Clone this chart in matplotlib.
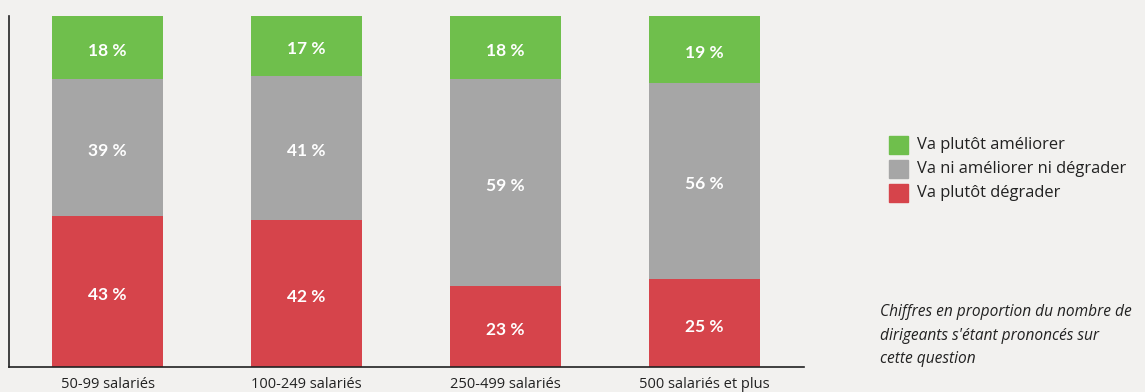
import matplotlib
matplotlib.use("Agg")
import matplotlib.pyplot as plt
from matplotlib.patches import Rectangle
from matplotlib.transforms import offset_copy

plt.rcParams['font.family'] = ['Open Sans', 'DejaVu Sans']

categories = ["50-99 salariés", "100-249 salariés", "250-499 salariés", "500 salariés et plus"]
degrader = [43, 42, 23, 25]
neutre = [39, 41, 59, 56]
ameliorer = [18, 17, 18, 19]
series_labels = ["Va plutôt améliorer", "Va ni améliorer ni dégrader", "Va plutôt dégrader"]
note_lines = ["Chiffres en proportion du nombre de",
              "dirigeants s'étant prononcés sur",
              "cette question"]

BG = "#f2f1ef"
GREEN = "#6fbf4c"
GREY = "#a6a6a6"
RED = "#d6444b"
INK = "#222222"

W, H = 1145, 392
fig = plt.figure(figsize=(W / 100, H / 100), dpi=100, facecolor=BG)
ax = fig.add_axes([9 / W, (H - 367) / H, (804 - 9) / W, (367 - 16) / H])
ax.set_facecolor(BG)

x = list(range(len(categories)))
width = 0.558
bottom2 = [d + n for d, n in zip(degrader, neutre)]
ax.bar(x, degrader, width, color=RED)
ax.bar(x, neutre, width, bottom=degrader, color=GREY)
ax.bar(x, ameliorer, width, bottom=bottom2, color=GREEN)

label_tr = offset_copy(ax.transData, fig=fig, x=0, y=-3.5, units="dots")
for i in x:
    segs = [(0, degrader[i]), (degrader[i], neutre[i]), (bottom2[i], ameliorer[i])]
    for b, h in segs:
        ax.text(i, b + h / 2, f"{h} %", ha="center", va="center",
                color="white", fontsize=12.5, fontweight="bold",
                family=['Lato', 'DejaVu Sans'], transform=label_tr)

ax.set_xlim(-0.495, 3.5)
ax.set_ylim(0, 100)
ax.set_xticks(x)
ax.set_xticklabels(categories, fontsize=10.5)
ax.tick_params(axis="x", length=0, pad=7, colors=INK)
ax.set_yticks([])
for s in ("top", "right"):
    ax.spines[s].set_visible(False)
for s in ("left", "bottom"):
    ax.spines[s].set_color(INK)
    ax.spines[s].set_linewidth(1.2)

# legend drawn as squares and labels in figure coordinates
colors = [GREEN, GREY, RED]
for k, (lab, c) in enumerate(zip(series_labels, colors)):
    top = 136 + 24 * k
    fig.patches.append(Rectangle((889 / W, (H - top - 18) / H), 19 / W, 18 / H,
                                 transform=fig.transFigure, color=c))
    fig.text(917 / W, (H - top - 9) / H, lab, ha="left", va="center",
             fontsize=11.9, color=INK)

for k, line in enumerate(note_lines):
    fig.text(880 / W, (H - 312 - 23.5 * k) / H, line, ha="left", va="center",
             fontsize=11.2, style="italic", color=INK)

fig.savefig("out.png", dpi=100, facecolor=BG)
